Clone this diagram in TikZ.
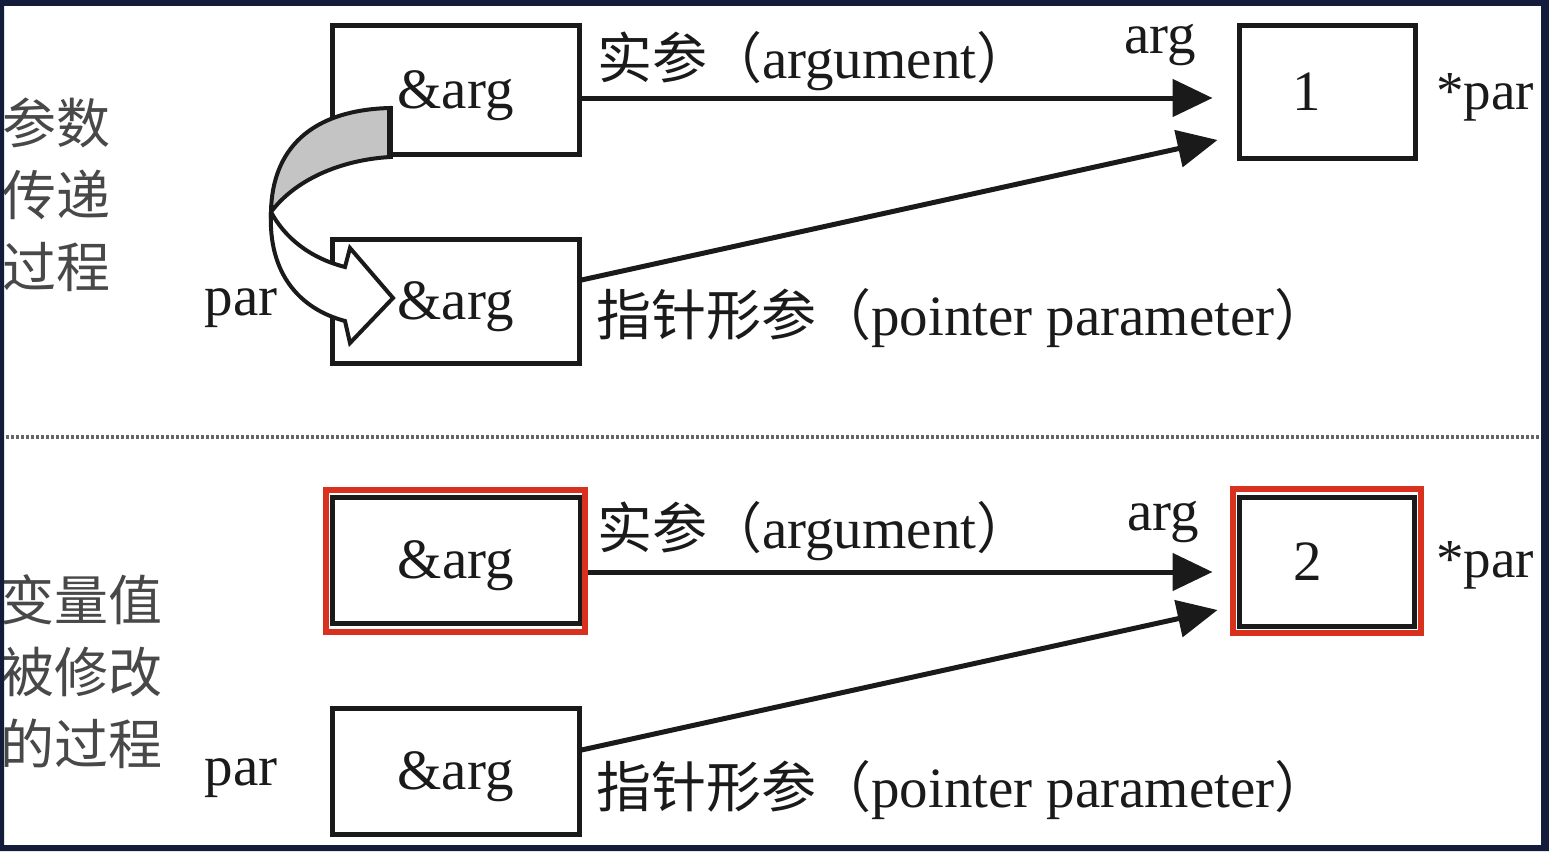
\documentclass[tikz,border=0pt]{standalone}
\usepackage{fontspec}
\setmainfont{Liberation Serif}
\newfontfamily\cjk{Noto Sans CJK SC}
\usetikzlibrary{arrows.meta,calc}
\definecolor{navy}{HTML}{141C3C}
\definecolor{ink}{HTML}{1A1A1A}
\definecolor{redbox}{HTML}{D8321E}
\definecolor{bandgray}{HTML}{C4C4C4}
\newcommand{\zh}[1]{{\cjk\fontsize{55}{72}\selectfont #1}}
\begin{document}
\begin{tikzpicture}[x=1pt,y=-1pt,
  txt/.style={font=\fontsize{57}{72}\selectfont, text=ink, inner sep=0pt},
  sidetxt/.style={font=\cjk\fontsize{54}{72}\selectfont, text=ink!80, inner sep=0pt, align=left, anchor=west},
  box/.style={draw=ink, line width=5pt, fill=white, inner sep=0pt, text depth=0pt, font=\fontsize{57}{66}\selectfont, text=ink},
  redframe/.style={draw=redbox, line width=6pt, inner sep=0pt},
  arr/.style={draw=ink, line width=5pt, -{Triangle[length=40pt,width=37pt]}},
  ribbon/.style={draw=ink, line width=4pt, line join=miter},
  sep/.style={draw=gray!80!black, line width=4pt, dash pattern=on 3pt off 2pt},
]
\useasboundingbox (0,0) rectangle (1549,851);
\fill[navy] (0,0) rectangle (1549,851);
\fill[white] (4,6) rectangle (1541,845);

% ---------- upper half ----------
\node[box, minimum width=247pt, minimum height=128pt] (b1) at (455.5,90) {\&arg};
\node[box, minimum width=176pt, minimum height=132pt] (one) at (1327,92) {};
\node[box, minimum width=247pt, minimum height=124pt] (b2) at (455.5,301) {\&arg};
\node[txt] (onetxt) at ($(one.center)+(-20,0)$) {1};

\draw[arr] ($(b1.east)+(0,8)$) -- ($(one.west)+(-24,6)$);
\draw[arr] ($(b2.east)+(0,-21)$) -- ($(one.west)+(-19,48)$);

\node[txt, anchor=west] (lab1) at (597,61) {\zh{实参（}argument\zh{）}};
\node[txt] (arg1) at (1160,45) {arg};
\node[txt, anchor=west, font=\fontsize{55}{72}\selectfont] (par1) at (1436,97) {*par};
\node[txt, anchor=west] (lab2) at (596,318) {\zh{指针形参（}pointer parameter\zh{）}};
\node[txt] (parl1) at (241,308) {par};
\node[sidetxt] (side1) at (2,195) {参数\\传递\\过程};

% curved ribbon arrow
\filldraw[ribbon, fill=bandgray] (390,108) .. controls (310,110) and (272,150) .. (271,212)
  .. controls (295,180) and (340,160) .. (390,157) -- cycle;
\draw[ink, line width=6pt] (390,106) -- (390,159);
\filldraw[ribbon, fill=white] (271,212) .. controls (268,274) and (300,309) .. (345,321)
  -- (350,343) -- (393,298) -- (350,248) -- (345,267)
  .. controls (310,258) and (285,238) .. (271,212) -- cycle;

% separator
\draw[sep] (6,437) -- (1540,437);

% ---------- lower half ----------
\node[box, minimum width=248pt, minimum height=126pt] (b3) at (456,560) {\&arg};
\node[redframe, minimum width=259pt, minimum height=142pt] (r3) at (455.5,561) {};
\node[box, minimum width=175pt, minimum height=129pt] (two) at (1326.5,561.5) {};
\node[redframe, minimum width=188pt, minimum height=144pt] (r2) at (1327,561) {};
\node[txt] (twotxt) at ($(two.center)+(-19,0)$) {2};
\node[box, minimum width=247pt, minimum height=126pt] (b4) at (455.5,771) {\&arg};

\draw[arr] ($(r3.east)+(0,11)$) -- ($(two.west)+(-24,10.5)$);
\draw[arr] ($(b4.east)+(0,-21)$) -- ($(two.west)+(-19,48.5)$);

\node[txt, anchor=west] (lab3) at (597,531) {\zh{实参（}argument\zh{）}};
\node[txt] (arg2) at (1163,522) {arg};
\node[txt, anchor=west, font=\fontsize{55}{72}\selectfont] (par2) at (1436,565) {*par};
\node[txt, anchor=west] (lab4) at (596,790) {\zh{指针形参（}pointer parameter\zh{）}};
\node[txt] (parl2) at (241,778) {par};
\node[sidetxt] (side2) at (0,672) {变量值\\被修改\\的过程};

% frame on top
\fill[navy, even odd rule] (0,0) rectangle (1549,851) (4,6) rectangle (1541,845);
\end{tikzpicture}
\end{document}
